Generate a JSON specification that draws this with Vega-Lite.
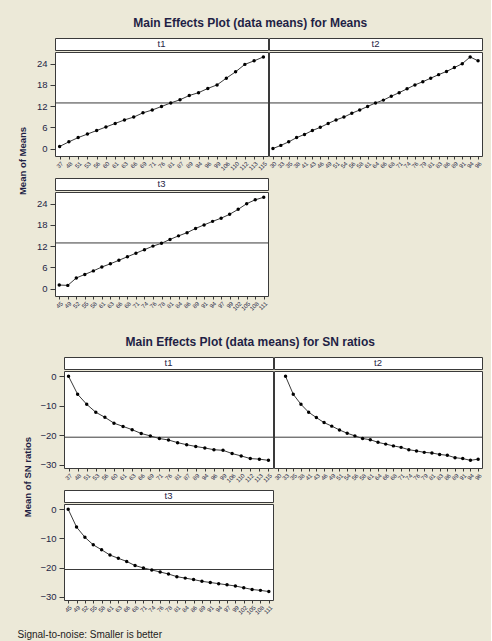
{
  "$schema": "https://vega.github.io/schema/vega-lite/v6.json",
  "background": "#ECE9D8",
  "padding": {"left": 17, "top": 16, "right": 8, "bottom": 2},
  "title": {"text": "Signal-to-noise: Smaller is better", "orient": "bottom", "anchor": "start", "fontSize": 10, "fontWeight": "normal", "color": "#222222", "font": "Liberation Sans", "offset": 14},
  "datasets": {
    "d": [
      {"p":"t1","l":"37","m":0.6,"s":0},{"p":"t1","l":"48","m":1.9,"s":-6.1},{"p":"t1","l":"51","m":3.1,"s":-9.5},{"p":"t1","l":"53","m":4.1,"s":-12.2},{"p":"t1","l":"56","m":5.1,"s":-13.9},{"p":"t1","l":"60","m":6.1,"s":-15.9},{"p":"t1","l":"61","m":7.1,"s":-17.0},{"p":"t1","l":"63","m":8.1,"s":-18.1},{"p":"t1","l":"66","m":8.9,"s":-19.4},{"p":"t1","l":"69","m":10.1,"s":-20.2},{"p":"t1","l":"71","m":10.9,"s":-21.1},{"p":"t1","l":"76","m":11.9,"s":-21.6},{"p":"t1","l":"81","m":12.9,"s":-22.5},{"p":"t1","l":"87","m":13.8,"s":-23.2},{"p":"t1","l":"89","m":15,"s":-23.8},{"p":"t1","l":"94","m":15.8,"s":-24.3},{"p":"t1","l":"96","m":17,"s":-24.9},{"p":"t1","l":"99","m":18,"s":-25.1},{"p":"t1","l":"106","m":19.9,"s":-26.2},{"p":"t1","l":"110","m":21.7,"s":-27.0},{"p":"t1","l":"112","m":23.8,"s":-27.9},{"p":"t1","l":"113","m":24.8,"s":-28.1},{"p":"t1","l":"115","m":25.9,"s":-28.5},
      {"p":"t2","l":"30","m":0,"s":null},{"p":"t2","l":"33","m":0.9,"s":0},{"p":"t2","l":"35","m":1.9,"s":-6.1},{"p":"t2","l":"38","m":3.1,"s":-9.5},{"p":"t2","l":"41","m":4.0,"s":-12.2},{"p":"t2","l":"43","m":5.1,"s":-14.0},{"p":"t2","l":"46","m":6.0,"s":-15.7},{"p":"t2","l":"49","m":7.1,"s":-16.9},{"p":"t2","l":"51","m":8.1,"s":-18.2},{"p":"t2","l":"54","m":8.9,"s":-19.3},{"p":"t2","l":"56","m":10,"s":-20.2},{"p":"t2","l":"58","m":10.9,"s":-21.1},{"p":"t2","l":"61","m":11.9,"s":-21.5},{"p":"t2","l":"64","m":12.9,"s":-22.4},{"p":"t2","l":"66","m":13.7,"s":-23.0},{"p":"t2","l":"68","m":14.8,"s":-23.6},{"p":"t2","l":"71","m":15.8,"s":-24.1},{"p":"t2","l":"74","m":16.9,"s":-24.9},{"p":"t2","l":"76","m":18,"s":-25.3},{"p":"t2","l":"79","m":18.9,"s":-25.8},{"p":"t2","l":"81","m":19.9,"s":-26.0},{"p":"t2","l":"83","m":20.9,"s":-26.5},{"p":"t2","l":"86","m":21.8,"s":-26.8},{"p":"t2","l":"89","m":22.9,"s":-27.6},{"p":"t2","l":"91","m":24,"s":-27.9},{"p":"t2","l":"94","m":25.9,"s":-28.5},{"p":"t2","l":"96","m":24.8,"s":-28.1},
      {"p":"t3","l":"45","m":1,"s":0},{"p":"t3","l":"49","m":0.9,"s":-6.1},{"p":"t3","l":"52","m":3,"s":-9.6},{"p":"t3","l":"55","m":4,"s":-12.2},{"p":"t3","l":"58","m":5,"s":-13.9},{"p":"t3","l":"61","m":6.1,"s":-15.7},{"p":"t3","l":"63","m":7,"s":-16.8},{"p":"t3","l":"66","m":8,"s":-17.9},{"p":"t3","l":"68","m":9,"s":-19.3},{"p":"t3","l":"71","m":10,"s":-20.1},{"p":"t3","l":"74","m":11,"s":-20.8},{"p":"t3","l":"76","m":12,"s":-21.5},{"p":"t3","l":"78","m":12.8,"s":-22.2},{"p":"t3","l":"81","m":13.9,"s":-23.1},{"p":"t3","l":"84","m":14.9,"s":-23.6},{"p":"t3","l":"86","m":15.8,"s":-24.1},{"p":"t3","l":"89","m":17,"s":-24.7},{"p":"t3","l":"91","m":18,"s":-25.1},{"p":"t3","l":"94","m":19,"s":-25.5},{"p":"t3","l":"97","m":19.9,"s":-25.9},{"p":"t3","l":"99","m":21,"s":-26.3},{"p":"t3","l":"102","m":22.4,"s":-26.9},{"p":"t3","l":"105","m":24,"s":-27.5},{"p":"t3","l":"108","m":25.1,"s":-27.8},{"p":"t3","l":"111","m":25.8,"s":-28.2}
    ]
  },
  "spacing": 23,
  "vconcat": [
    {
      "title": {"text": "Main Effects Plot (data means) for Means", "fontSize": 12, "fontWeight": "bold", "color": "#1F1F45", "font": "Liberation Sans", "anchor": "middle", "offset": 8},
      "spacing": 6,
      "hconcat": [
        {"width": 10, "height": 246, "view": {"stroke": "transparent", "fill": "transparent"}, "data": {"values": [{"t": "Mean of Means"}]}, "mark": {"type": "text", "angle": 270, "fontSize": 9.5, "fontWeight": "bold", "color": "#1F1F45", "baseline": "middle", "align": "center"}, "encoding": {"text": {"field": "t"}}},
        {"spacing": 5, "vconcat": [
          {"spacing": -4, "hconcat": [
            {"spacing": 0, "vconcat": [
              {"width": 213, "height": 12, "view": {"stroke": "#3A3A3A", "fill": "white"}, "data": {"values": [{"t": "t1"}]}, "mark": {"type": "text", "fontSize": 9.5, "color": "#1F1F45", "baseline": "middle"}, "encoding": {"text": {"field": "t"}}},
              {"width": 213, "height": 104, "data": {"name": "d"}, "transform": [{"filter": "datum.p === 't1'"}],
               "layer": [
                 {"data": {"values": [{}]}, "mark": {"type": "rule", "color": "#3A3A3A", "strokeWidth": 1}, "encoding": {"y": {"datum": 12.9, "type": "quantitative", "scale": {"domain": [-2.1, 27.3], "nice": false, "zero": false}, "axis": {"values": [0, 6, 12, 18, 24], "title": null}}}},
                 {"mark": {"type": "line", "color": "#3A3A3A", "strokeWidth": 1, "point": {"filled": true, "color": "black", "size": 12, "opacity": 1}},
                  "encoding": {
                    "x": {"field": "l", "type": "ordinal", "sort": null, "title": null, "scale": {"type": "point", "padding": 0.5}},
                    "y": {"field": "m", "type": "quantitative", "scale": {"domain": [-2.1, 27.3], "nice": false, "zero": false}, "axis": {"values": [0, 6, 12, 18, 24], "title": null}}
                  }}
               ]}
            ]},
            {"spacing": 0, "vconcat": [
              {"width": 213, "height": 12, "view": {"stroke": "#3A3A3A", "fill": "white"}, "data": {"values": [{"t": "t2"}]}, "mark": {"type": "text", "fontSize": 9.5, "color": "#1F1F45", "baseline": "middle"}, "encoding": {"text": {"field": "t"}}},
              {"width": 213, "height": 104, "data": {"name": "d"}, "transform": [{"filter": "datum.p === 't2'"}],
               "layer": [
                 {"data": {"values": [{}]}, "mark": {"type": "rule", "color": "#3A3A3A", "strokeWidth": 1}, "encoding": {"y": {"datum": 12.9, "type": "quantitative", "scale": {"domain": [-2.1, 27.3], "nice": false, "zero": false}, "axis": null}}},
                 {"mark": {"type": "line", "color": "#3A3A3A", "strokeWidth": 1, "point": {"filled": true, "color": "black", "size": 12, "opacity": 1}},
                  "encoding": {
                    "x": {"field": "l", "type": "ordinal", "sort": null, "title": null, "scale": {"type": "point", "padding": 0.5}},
                    "y": {"field": "m", "type": "quantitative", "scale": {"domain": [-2.1, 27.3], "nice": false, "zero": false}, "axis": null}
                  }}
               ]}
            ]}
          ]},
          {"hconcat": [
            {"spacing": 0, "vconcat": [
              {"width": 213, "height": 12, "view": {"stroke": "#3A3A3A", "fill": "white"}, "data": {"values": [{"t": "t3"}]}, "mark": {"type": "text", "fontSize": 9.5, "color": "#1F1F45", "baseline": "middle"}, "encoding": {"text": {"field": "t"}}},
              {"width": 213, "height": 104, "data": {"name": "d"}, "transform": [{"filter": "datum.p === 't3'"}],
               "layer": [
                 {"data": {"values": [{}]}, "mark": {"type": "rule", "color": "#3A3A3A", "strokeWidth": 1}, "encoding": {"y": {"datum": 12.9, "type": "quantitative", "scale": {"domain": [-2.1, 27.3], "nice": false, "zero": false}, "axis": {"values": [0, 6, 12, 18, 24], "title": null}}}},
                 {"mark": {"type": "line", "color": "#3A3A3A", "strokeWidth": 1, "point": {"filled": true, "color": "black", "size": 12, "opacity": 1}},
                  "encoding": {
                    "x": {"field": "l", "type": "ordinal", "sort": null, "title": null, "scale": {"type": "point", "padding": 0.5}},
                    "y": {"field": "m", "type": "quantitative", "scale": {"domain": [-2.1, 27.3], "nice": false, "zero": false}, "axis": {"values": [0, 6, 12, 18, 24], "title": null}}
                  }}
               ]}
            ]}
          ]}
        ]}
      ]
    },
    {
      "title": {"text": "Main Effects Plot (data means) for SN ratios", "fontSize": 12, "fontWeight": "bold", "color": "#1F1F45", "font": "Liberation Sans", "anchor": "middle", "offset": 8},
      "spacing": 0,
      "hconcat": [
        {"width": 20, "height": 240, "view": {"stroke": "transparent", "fill": "transparent"}, "data": {"values": [{"t": "Mean of SN ratios"}]}, "mark": {"type": "text", "angle": 270, "fontSize": 9.5, "fontWeight": "bold", "color": "#1F1F45", "baseline": "middle", "align": "center"}, "encoding": {"text": {"field": "t"}}},
        {"spacing": 5, "vconcat": [
          {"spacing": -4, "hconcat": [
            {"spacing": 0, "vconcat": [
              {"width": 209, "height": 12, "view": {"stroke": "#3A3A3A", "fill": "white"}, "data": {"values": [{"t": "t1"}]}, "mark": {"type": "text", "fontSize": 9.5, "color": "#1F1F45", "baseline": "middle"}, "encoding": {"text": {"field": "t"}}},
              {"width": 209, "height": 97, "data": {"name": "d"}, "transform": [{"filter": "datum.p === 't1'"}],
               "layer": [
                 {"data": {"values": [{}]}, "mark": {"type": "rule", "color": "#3A3A3A", "strokeWidth": 1}, "encoding": {"y": {"datum": -20.65, "type": "quantitative", "scale": {"domain": [-31.1, 1.8], "nice": false, "zero": false}, "axis": {"values": [0, -10, -20, -30], "title": null}}}},
                 {"mark": {"type": "line", "color": "#3A3A3A", "strokeWidth": 1, "point": {"filled": true, "color": "black", "size": 12, "opacity": 1}},
                  "encoding": {
                    "x": {"field": "l", "type": "ordinal", "sort": null, "title": null, "scale": {"type": "point", "padding": 0.5}},
                    "y": {"field": "s", "type": "quantitative", "scale": {"domain": [-31.1, 1.8], "nice": false, "zero": false}, "axis": {"values": [0, -10, -20, -30], "title": null}}
                  }}
               ]}
            ]},
            {"spacing": 0, "vconcat": [
              {"width": 208, "height": 12, "view": {"stroke": "#3A3A3A", "fill": "white"}, "data": {"values": [{"t": "t2"}]}, "mark": {"type": "text", "fontSize": 9.5, "color": "#1F1F45", "baseline": "middle"}, "encoding": {"text": {"field": "t"}}},
              {"width": 208, "height": 97, "data": {"name": "d"}, "transform": [{"filter": "datum.p === 't2'"}],
               "layer": [
                 {"data": {"values": [{}]}, "mark": {"type": "rule", "color": "#3A3A3A", "strokeWidth": 1}, "encoding": {"y": {"datum": -20.65, "type": "quantitative", "scale": {"domain": [-31.1, 1.8], "nice": false, "zero": false}, "axis": null}}},
                 {"mark": {"type": "line", "color": "#3A3A3A", "strokeWidth": 1, "point": {"filled": true, "color": "black", "size": 12, "opacity": 1}},
                  "encoding": {
                    "x": {"field": "l", "type": "ordinal", "sort": null, "title": null, "scale": {"type": "point", "padding": 0.5, "domain": ["30","33","35","38","41","43","46","49","51","54","56","58","61","64","66","68","71","74","76","79","81","83","86","89","91","94","96"]}},
                    "y": {"field": "s", "type": "quantitative", "scale": {"domain": [-31.1, 1.8], "nice": false, "zero": false}, "axis": null}
                  }}
               ]}
            ]}
          ]},
          {"hconcat": [
            {"spacing": 0, "vconcat": [
              {"width": 209, "height": 12, "view": {"stroke": "#3A3A3A", "fill": "white"}, "data": {"values": [{"t": "t3"}]}, "mark": {"type": "text", "fontSize": 9.5, "color": "#1F1F45", "baseline": "middle"}, "encoding": {"text": {"field": "t"}}},
              {"width": 209, "height": 96, "data": {"name": "d"}, "transform": [{"filter": "datum.p === 't3'"}],
               "layer": [
                 {"data": {"values": [{}]}, "mark": {"type": "rule", "color": "#3A3A3A", "strokeWidth": 1}, "encoding": {"y": {"datum": -20.65, "type": "quantitative", "scale": {"domain": [-31.1, 1.8], "nice": false, "zero": false}, "axis": {"values": [0, -10, -20, -30], "title": null}}}},
                 {"mark": {"type": "line", "color": "#3A3A3A", "strokeWidth": 1, "point": {"filled": true, "color": "black", "size": 12, "opacity": 1}},
                  "encoding": {
                    "x": {"field": "l", "type": "ordinal", "sort": null, "title": null, "scale": {"type": "point", "padding": 0.5}},
                    "y": {"field": "s", "type": "quantitative", "scale": {"domain": [-31.1, 1.8], "nice": false, "zero": false}, "axis": {"values": [0, -10, -20, -30], "title": null}}
                  }}
               ]}
            ]}
          ]}
        ]}
      ]
    }
  ],
  "config": {
    "font": "Liberation Sans",
    "view": {"stroke": "#3A3A3A", "fill": "white"},
    "axis": {"domain": false, "grid": false, "tickColor": "#3A3A3A", "labelColor": "#1F1F45", "titleColor": "#1F1F45"},
    "axisX": {"labelAngle": -45, "labelFontSize": 6, "tickSize": 3, "labelPadding": 1, "labelOverlap": false},
    "axisY": {"labelFontSize": 9.5, "tickSize": 5, "labelPadding": 3}
  }
}
